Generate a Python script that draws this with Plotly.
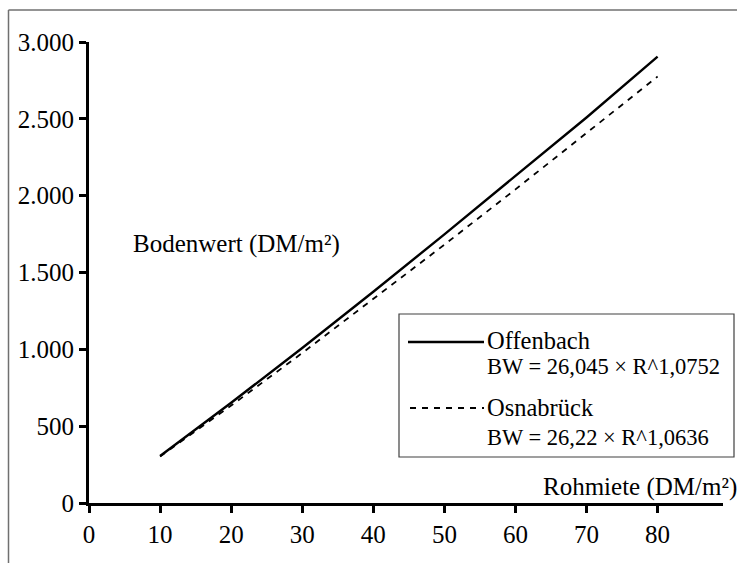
import plotly.graph_objects as go

# Data
rohmiete = [10, 20, 30, 40, 50, 60, 70, 80]
offenbach = [306, 652, 1009, 1375, 1748, 2126, 2509, 2905]
osnabrueck = [303, 634, 976, 1326, 1681, 2041, 2405, 2775]

x_ticks = [0, 10, 20, 30, 40, 50, 60, 70, 80]
y_ticks = [0, 500, 1000, 1500, 2000, 2500, 3000]

series_names = ["Offenbach", "Osnabrück"]
formulas = ["BW = 26,045 \u00d7 R^1,0752", "BW = 26,22 \u00d7 R^1,0636"]

W, H = 737, 563
L, R, T, B = 89, 14, 42, 60
PW, PH = W - L - R, H - T - B
FONT = "Liberation Serif"


def px(x):
    return (x - L) / PW


def py(y):
    return 1 - (y - T) / PH


fig = go.Figure()
fig.add_trace(go.Scatter(x=rohmiete, y=offenbach, mode="lines", name=series_names[0],
                         line=dict(color="black", width=2.4), showlegend=False))
fig.add_trace(go.Scatter(x=rohmiete, y=osnabrueck, mode="lines", name=series_names[1],
                         line=dict(color="black", width=1.8, dash="6px,6px"), showlegend=False))

shapes = []
# outer frame (clipped by page)
shapes.append(dict(type="line", xref="paper", yref="paper", x0=px(8.5), y0=py(H + 20), x1=px(8.5), y1=py(10),
                   line=dict(color="#707070", width=1.5)))
shapes.append(dict(type="line", xref="paper", yref="paper", x0=px(8.5), y0=py(10), x1=px(W + 20), y1=py(10),
                   line=dict(color="#707070", width=1.5)))
# legend box
shapes.append(dict(type="rect", xref="paper", yref="paper", x0=px(399), y0=py(457), x1=px(734), y1=py(314),
                   line=dict(color="#404040", width=1.2), fillcolor="white", layer="above"))
shapes.append(dict(type="line", xref="paper", yref="paper", x0=px(408), y0=py(342), x1=px(484), y1=py(342),
                   line=dict(color="black", width=2.6)))
shapes.append(dict(type="line", xref="paper", yref="paper", x0=px(410), y0=py(408), x1=px(484), y1=py(408),
                   line=dict(color="black", width=1.8, dash="6px,6px")))

annotations = []


def txt(text, x, y, size, xanchor="left"):
    annotations.append(dict(text=text, xref="paper", yref="paper", x=px(x), y=py(y),
                            xanchor=xanchor, yanchor="middle", showarrow=False,
                            font=dict(family=FONT, size=size, color="black")))


txt(series_names[0], 485, 340, 24.5)
txt(formulas[0], 485, 366, 22.5)
txt(series_names[1], 485, 407, 24.5)
txt(formulas[1], 485, 437, 22.5)
txt("Bodenwert (DM/m²)", 131, 244, 25)
txt("Rohmiete (DM/m²)", 739, 487, 25, xanchor="right")

fig.update_layout(
    width=W, height=H,
    margin=dict(l=L, r=R, t=T, b=B),
    paper_bgcolor="white", plot_bgcolor="white",
    separators=",.",
    font=dict(family=FONT, size=25, color="black"),
    shapes=shapes, annotations=annotations,
    showlegend=False,
)
fig.update_xaxes(range=[0, 89.2], tickvals=x_ticks, showgrid=False, zeroline=False,
                 showline=True, linecolor="black", linewidth=3,
                 ticks="outside", ticklen=7, tickwidth=3, tickcolor="black",
                 tickfont=dict(family=FONT, size=25, color="black"))
fig.update_yaxes(range=[0, 3000], tickvals=y_ticks, tickformat=",d", showgrid=False, zeroline=False,
                 showline=True, linecolor="black", linewidth=3,
                 ticks="outside", ticklen=7, tickwidth=3, tickcolor="black",
                 tickfont=dict(family=FONT, size=25, color="black"))

fig.write_html("out.html", config={"displayModeBar": False},
               post_script="document.body.style.margin='0';document.body.style.overflow='hidden';")
